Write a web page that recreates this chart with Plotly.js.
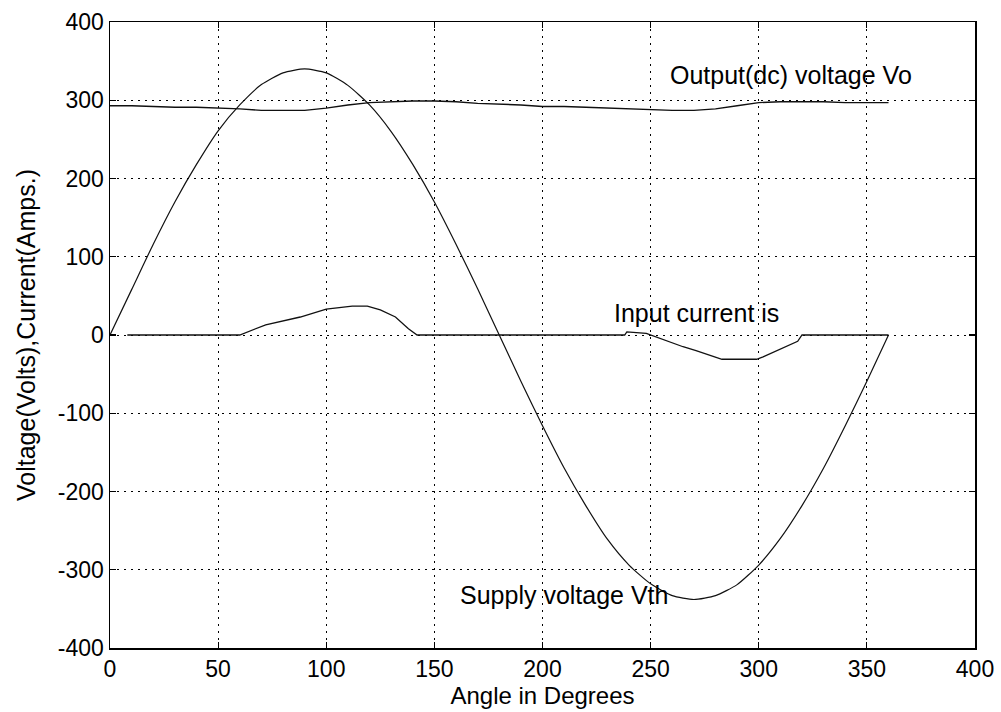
<!DOCTYPE html>
<html>
<head>
<meta charset="utf-8">
<script src="https://cdn.plot.ly/plotly-3.0.1.min.js"></script>
<style>html,body{margin:0;padding:0;background:#fff;}#chart{width:1001px;height:712px;}</style>
</head>
<body>
<div id="chart"></div>
<script>
// Supply voltage Vth (angle, volts)
const supplyAngle = [0,10,20,30,40,50,60,70,80,90,100,110,120,130,140,150,160,170,180,190,200,210,220,230,240,250,260,270,280,290,300,310,320,330,340,350,360];
const supplyVolts = [0,58,116,170,218,261,294,320,335,340,335,319,294,260,218,170,116,59,0,-59,-116,-170,-218,-261,-294,-318,-333,-338,-333,-319,-294,-260,-218,-170,-116,-59,0];

// Output (dc) voltage Vo
const outAngle = [0,10,20,30,40,50,60,70,80,90,100,110,120,130,140,150,160,170,180,190,200,210,220,230,240,250,260,270,280,290,300,310,320,330,340,350,360];
const outVolts = [293,293,292,291,291,290,289,287,287,287,290,294,297,298,299,299,298,296,295,294,292,292,291,290,289,288,287,287,289,293,297,298,298,298,297,297,297];

// Input current is
const curAngle = [8,30,58,60,72,88,100,112,119,125,132,138,142,180,238,239,248,265,271,283,299,302,318,320,340,360];
const curAmps  = [0,0,0,0,13,23,33,37,37,32,23,8,0,0,0,4,2,-15,-20,-31,-31,-28,-8,0,0,0];

// Labels
const labelText = ["Output(dc) voltage Vo", "Input current is", "Supply voltage Vth"];
const labelX = [315, 271, 210];
const labelY = [332, 28, -332];

const tickVals = [0,50,100,150,200,250,300,350,400];
const yTickVals = [-400,-300,-200,-100,0,100,200,300,400];

const lineStyle = {color:'#111', width:1.2, shape:'spline', smoothing:0.6};

const traces = [
  {x: supplyAngle, y: supplyVolts, mode:'lines', line: lineStyle, hoverinfo:'skip'},
  {x: outAngle, y: outVolts, mode:'lines', line: {color:'#111', width:1.4}, hoverinfo:'skip'},
  {x: curAngle, y: curAmps, mode:'lines', line: {color:'#111', width:1.3}, hoverinfo:'skip'}
];

const fam = '"Liberation Sans", Arial, sans-serif';
const tickFont = {family:fam, size:23, color:'#000'};
const titleFont = {family:fam, size:24, color:'#000'};

const axisCommon = {
  showline:true, linecolor:'#000', linewidth:1.5, mirror:'ticks',
  ticks:'inside', ticklen:6, tickcolor:'#000', tickwidth:1.2,
  showgrid:true, gridcolor:'#000', gridwidth:1, griddash:'2px,5px',
  zeroline:false, tickfont:tickFont, automargin:false
};

const layout = {
  width:1001, height:712,
  margin:{l:110, r:26, t:22, b:64},
  paper_bgcolor:'#fff', plot_bgcolor:'#fff',
  showlegend:false,
  font: tickFont,
  xaxis: Object.assign({}, axisCommon, {
    range:[0,400], tickvals:tickVals, ticktext:tickVals.map(String),
    title:{text:'Angle in Degrees', font:titleFont, standoff:3}
  }),
  yaxis: Object.assign({}, axisCommon, {
    range:[-400,400], tickvals:yTickVals, ticktext:yTickVals.map(String),
    title:{text:'Voltage(Volts),Current(Amps.)', font:{family:fam, size:25, color:'#000'}, standoff:15}
  }),
  annotations: labelText.map((t,i)=>({
    x: labelX[i], y: labelY[i], xref:'x', yref:'y', text:t, showarrow:false,
    font:{family:fam, size:25, color:'#000'}, bgcolor:'rgba(0,0,0,0)'
  }))
};

Plotly.newPlot('chart', traces, layout, {displayModeBar:false, staticPlot:true});
</script>
</body>
</html>
